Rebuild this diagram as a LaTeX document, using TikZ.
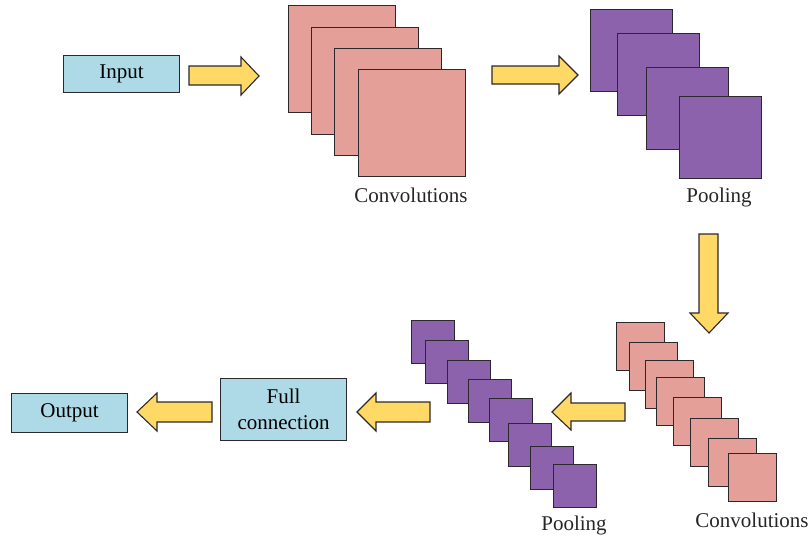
\documentclass[tikz,border=0pt]{standalone}
\usepackage{fontspec}
\setmainfont{Liberation Serif}
\definecolor{pinkc}{RGB}{228,160,152}
\definecolor{purplec}{RGB}{139,98,171}
\definecolor{yellowc}{RGB}{255,217,102}
\definecolor{bluec}{RGB}{173,218,230}
\definecolor{edgec}{RGB}{45,40,45}
\tikzset{
  lbl/.style={font=\fontsize{21}{24}\selectfont, text=black!85, inner sep=0pt},
  bluebox/.style={draw=edgec, line width=1.3pt, fill=bluec, anchor=north west, inner sep=0pt, font=\fontsize{21}{24}\selectfont, align=center},
  convsq/.style={draw=edgec, line width=1.3pt, fill=pinkc, anchor=north west, inner sep=0pt},
  poolsq/.style={draw=edgec, line width=1.3pt, fill=purplec, anchor=north west, inner sep=0pt},
  yarrow/.style={draw=edgec, line width=1.1pt, fill=yellowc, line join=miter},
}
\begin{document}
\begin{tikzpicture}[x=1pt,y=-1pt]
\useasboundingbox (0,0) rectangle (811,542);
% Input
\node[bluebox, minimum width=116pt, minimum height=37pt] (input) at (63,55) {Input};
% arrow 1
\draw[yarrow] (189,66) -- (241,66) -- (241,57) -- (259,76) -- (241,95) -- (241,85) -- (189,85) -- cycle;
% top convolutions
\foreach \n/\x/\y in {1/288/5, 2/311/27, 3/334/48, 4/358/69}
  \node[convsq, minimum size=107pt] (tc\n) at (\x,\y) {};
\node[lbl] (tclbl) at (411,195) {Convolutions};
% arrow 2
\draw[yarrow] (492,66) -- (559,66) -- (559,56) -- (578,75) -- (559,94) -- (559,84) -- (492,84) -- cycle;
% top pooling
\foreach \n/\x/\y in {1/590/9, 2/617/33, 3/646/67, 4/679/96}
  \node[poolsq, minimum size=82pt] (tp\n) at (\x,\y) {};
\node[lbl] (tplbl) at (719,197) {Pooling};
% down arrow
\draw[yarrow] (699,234) -- (718,234) -- (718,313) -- (728,313) -- (709,333) -- (690,313) -- (699,313) -- cycle;
% bottom convolutions
\foreach \n/\x/\y in {1/616/322, 2/629/342, 3/645/360, 4/656/377, 5/673/397, 6/690/418, 7/708/438, 8/728/453}
  \node[convsq, minimum size=48pt] (bc\n) at (\x,\y) {};
\node[lbl] (bclbl) at (752,520) {Convolutions};
% arrow 3
\draw[yarrow] (625,403) -- (571,403) -- (571,393) -- (552,412) -- (571,430) -- (571,421) -- (625,421) -- cycle;
% bottom pooling
\foreach \n/\x/\y in {1/411/320, 2/425/340, 3/447/360, 4/468/379, 5/489/398, 6/508/423, 7/530/446, 8/553/464}
  \node[poolsq, minimum size=42.5pt] (bp\n) at (\x,\y) {};
\node[lbl] (bplbl) at (574,525) {Pooling};
% arrow 4
\draw[yarrow] (430,402) -- (376,402) -- (376,393) -- (357,412) -- (376,431) -- (376,422) -- (430,422) -- cycle;
% full connection
\node[bluebox, minimum width=126pt, minimum height=62pt] (full) at (220,378) {Full\\[2pt]connection};
% arrow 5
\draw[yarrow] (212,402) -- (157,402) -- (157,393) -- (137,412) -- (157,431) -- (157,422) -- (212,422) -- cycle;
% output
\node[bluebox, minimum width=116pt, minimum height=39pt] (output) at (11,393) {Output};
\end{tikzpicture}
\end{document}
